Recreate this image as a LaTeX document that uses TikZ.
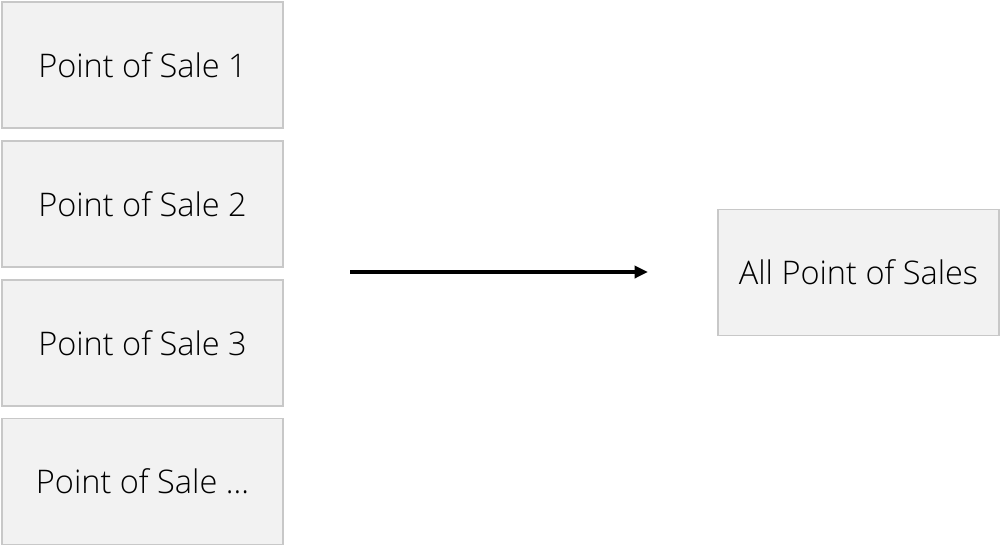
\documentclass[tikz,border=0pt]{standalone}
\usepackage{fontspec}
\setmainfont{Open Sans Light}
\usetikzlibrary{arrows.meta}
\definecolor{boxfill}{HTML}{F2F2F2}
\definecolor{boxline}{HTML}{C8C8C8}
\tikzset{
  posbox/.style={draw=boxline, fill=boxfill, line width=1.2pt, minimum width=281*0.75pt, minimum height=126*0.75pt, inner sep=0pt, font=\fontsize{24.4}{29}\selectfont, text=black},
  flow/.style={line width=2.6pt, -{Triangle[length=10pt,width=9pt]}}
}
\begin{document}
\begin{tikzpicture}[x=0.75pt,y=-0.75pt]
\useasboundingbox (0,0) rectangle (1000,546);
\node[posbox] (p1) at (142.5,65) {Point of Sale 1};
\node[posbox] (p2) at (142.5,204) {Point of Sale 2};
\node[posbox] (p3) at (142.5,343) {Point of Sale 3};
\node[posbox] (p4) at (142.5,481.5) {Point of Sale ...};
\node[posbox] (all) at (858.5,272.5) {All Point of Sales};
\coordinate (a0) at (350,272);
\coordinate (a1) at (648,272);
\draw[flow] (a0) -- (a1);
\end{tikzpicture}
\end{document}
